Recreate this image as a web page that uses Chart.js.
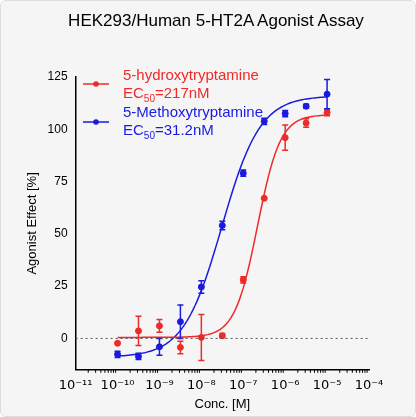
<!DOCTYPE html>
<html><head><meta charset="utf-8">
<script src="https://cdn.jsdelivr.net/npm/chart.js@4"></script>
<style>
body{margin:0;background:#fff;font-family:"Liberation Sans",Arial,sans-serif}
#wrap{position:relative;width:414px;height:415px;background:#f5f5f5;border:1px solid #ddd;border-radius:6px}
#title{position:absolute;top:10px;left:0;width:416px;text-align:center;font-size:17px;color:#000;padding-left:14px;box-sizing:border-box}
.lg{position:absolute;font-size:15px;line-height:18px}
canvas{position:absolute;left:0;top:0}
</style></head><body>
<div id="wrap">
<canvas id="c" width="414" height="415"></canvas>
<div id="title">HEK293/Human 5-HT2A Agonist Assay</div>
<div class="lg" style="left:122px;top:65px;color:#ee2a2a">5-hydroxytryptamine<br>EC<sub style="font-size:10px">50</sub>=217nM</div>
<div class="lg" style="left:122px;top:102px;color:#1a1ae0">5-Methoxytryptamine<br>EC<sub style="font-size:10px">50</sub>=31.2nM</div>
</div>
<script>
// log10 concentrations
const logConc = [-10, -9.5, -9, -8.5, -8, -7.5, -7, -6.5, -6, -5.5, -5];
const htMean = [-2.3, 3.6, 6, -4.3, 0.5, 1.3, 28, 67, 96, 103, 108];
const htErr = [0, 7, 3, 3, 11, 1, 1.5, 0, 6, 2, 1.5];
const moMean = [-7.6, -8.6, -4, 8, 24.6, 54, 79, 103.8, 107.5, 111, 116.8];
const moErr = [1.5, 1.5, 4, 8, 3, 2, 1.5, 1.5, 1.5, 1, 7];
const xTicks = [-11, -10, -9, -8, -7, -6, -5, -4];
const yTicks = [0, 25, 50, 75, 100, 125];
// fitted 4-parameter curves: bottom, top, logEC50, hill
const htFit = [0.5, 107, -6.66, 1.6];
const moFit = [-9, 116, -7.51, 0.95];
const RED = '#ee2a2a', BLUE = '#1a1ae0';

function curve(p) {
  const pts = [];
  for (let x = -10; x <= -5.0001; x += 0.05) {
    pts.push({x: x, y: p[0] + (p[1] - p[0]) / (1 + Math.pow(10, (p[2] - x) * p[3]))});
  }
  pts.push({x: -5, y: p[0] + (p[1] - p[0]) / (1 + Math.pow(10, (p[2] + 5) * p[3]))});
  return pts;
}
const sup = {'-': '⁻', '0': '⁰', '1': '¹', '2': '²', '3': '³', '4': '⁴', '5': '⁵', '6': '⁶', '7': '⁷', '8': '⁸', '9': '⁹'};
const pow10 = v => '10' + String(v).split('').map(c => sup[c]).join('');

const errorBars = {
  id: 'errorBars',
  afterDatasetsDraw(chart) {
    const {ctx, scales: {x, y}} = chart;
    [[htMean, htErr, RED], [moMean, moErr, BLUE]].forEach(([m, e, col]) => {
      ctx.save(); ctx.strokeStyle = col; ctx.lineWidth = 1.5;
      logConc.forEach((c, i) => {
        if (!e[i]) return;
        const px = x.getPixelForValue(c), t = y.getPixelForValue(m[i] + e[i]), b = y.getPixelForValue(m[i] - e[i]);
        ctx.beginPath();
        ctx.moveTo(px, t); ctx.lineTo(px, b);
        ctx.moveTo(px - 3, t); ctx.lineTo(px + 3, t);
        ctx.moveTo(px - 3, b); ctx.lineTo(px + 3, b);
        ctx.stroke();
      });
      ctx.restore();
    });
    // dotted zero line
    ctx.save(); ctx.strokeStyle = '#555'; ctx.setLineDash([2, 3]); ctx.lineWidth = 1;
    ctx.beginPath();
    ctx.moveTo(x.left, y.getPixelForValue(0)); ctx.lineTo(x.right, y.getPixelForValue(0));
    ctx.stroke(); ctx.restore();
    // minor ticks
    ctx.save(); ctx.strokeStyle = '#000'; ctx.lineWidth = 1;
    for (let d = -11; d < -4; d++) for (let k = 2; k < 10; k++) {
      const px = x.getPixelForValue(d + Math.log10(k));
      ctx.beginPath(); ctx.moveTo(px, y.bottom); ctx.lineTo(px, y.bottom + 3); ctx.stroke();
    }
    ctx.restore();
  }
};
const legendLines = {
  id: 'legendLines',
  afterDraw(chart) {
    const ctx = chart.ctx;
    [[83, RED], [121, BLUE]].forEach(([yy, col]) => {
      ctx.save(); ctx.strokeStyle = col; ctx.fillStyle = col; ctx.lineWidth = 1.5;
      ctx.beginPath(); ctx.moveTo(82, yy); ctx.lineTo(108, yy); ctx.stroke();
      ctx.beginPath(); ctx.arc(95, yy, 2.8, 0, Math.PI * 2); ctx.fill();
      ctx.restore();
    });
  }
};

new Chart(document.getElementById('c'), {
  type: 'scatter',
  data: {
    datasets: [
      {data: logConc.map((c, i) => ({x: c, y: htMean[i]})), backgroundColor: RED, borderColor: RED, pointRadius: 3},
      {data: logConc.map((c, i) => ({x: c, y: moMean[i]})), backgroundColor: BLUE, borderColor: BLUE, pointRadius: 3},
      {data: curve(htFit), showLine: true, borderColor: RED, borderWidth: 1.5, pointRadius: 0},
      {data: curve(moFit), showLine: true, borderColor: BLUE, borderWidth: 1.5, pointRadius: 0}
    ]
  },
  options: {
    responsive: false,
    animation: false,
    layout: {padding: {top: 76, right: 46, left: 20, bottom: 4}},
    plugins: {legend: {display: false}, tooltip: {enabled: false}},
    scales: {
      x: {
        type: 'linear', min: -11, max: -4,
        afterBuildTicks: s => { s.ticks = xTicks.map(v => ({value: v})); },
        ticks: {callback: v => pow10(v), color: '#000', font: {size: 13, family: 'DejaVu Sans'}, maxRotation: 0},
        grid: {display: false, drawTicks: true, tickLength: 5, tickColor: '#000'},
        border: {color: '#000', width: 1.5},
        title: {display: true, text: 'Conc. [M]', color: '#000', font: {size: 13, family: 'Liberation Sans'}, padding: 0}
      },
      y: {
        min: -15, max: 125,
        afterBuildTicks: s => { s.ticks = yTicks.map(v => ({value: v})); },
        ticks: {color: '#000', font: {size: 12, family: 'Liberation Sans'}},
        grid: {display: false, drawTicks: true, tickLength: 5, tickColor: '#000'},
        border: {color: '#000', width: 1.5},
        title: {display: true, text: 'Agonist Effect [%]', color: '#000', font: {size: 13, family: 'Liberation Sans'}}
      }
    }
  },
  plugins: [errorBars, legendLines]
});
</script>
</body></html>
